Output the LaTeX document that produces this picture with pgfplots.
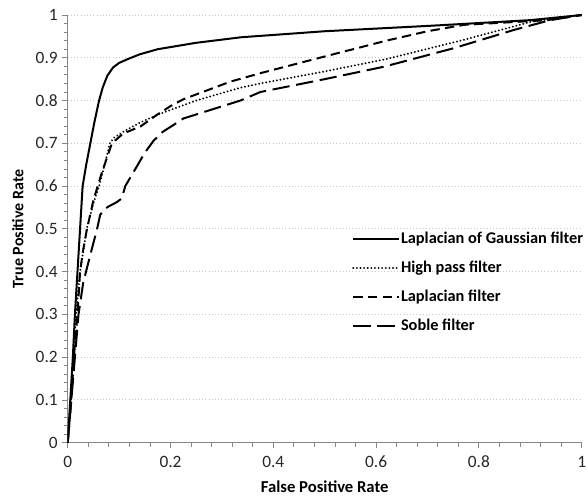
\documentclass[border=0pt]{standalone}
\usepackage{fontspec}
\setmainfont{Carlito}
\usepackage{pgfplots}
\pgfplotsset{compat=1.18}

\definecolor{axisgray}{RGB}{134,134,134}
\definecolor{gridgray}{RGB}{200,200,200}

\begin{document}
\begin{tikzpicture}
\begin{axis}[
  name=ax,
  scale only axis,
  width=385.5pt, height=320.8pt,
  xmin=0, xmax=1, ymin=0, ymax=1,
  axis x line=bottom, axis y line=left,
  axis line style={-, axisgray, line width=0.8pt},
  xtick={0,0.2,...,1}, ytick={0,0.1,...,1},
  minor x tick num=4, minor y tick num=4,
  tick align=outside,
  major tick length=4pt, minor tick length=3pt,
  tick style={axisgray, line width=0.6pt},
  ymajorgrids,
  major grid style={gridgray, dotted, line width=0.7pt},
  /pgf/number format/assume math mode=true,
  ticklabel style={font=\fontsize{13}{15}\selectfont, text=black!85},
  xticklabel style={yshift=-2.5pt},
  xlabel={False Positive Rate},
  ylabel={True Positive Rate},
  xlabel style={font=\bfseries\fontsize{12.5}{14}\selectfont, inner sep=0pt, at={(axis description cs:0.5,-0.104)}, anchor=center},
  ylabel style={font=\bfseries\fontsize{12}{14}\selectfont, at={(axis description cs:-0.097,0.5)}, anchor=center},
  legend cell align=left,
  legend style={draw=none, fill=none, at={(axis description cs:0.553,0.498)}, anchor=north west,
    font=\bfseries\fontsize{12.25}{14}\selectfont, row sep=7.75pt, inner sep=0pt,
    nodes={inner sep=1pt, text height=9pt, text depth=3pt}},
  legend image code/.code={\draw[#1] (0pt,0pt) -- (34pt,0pt);},
  every axis plot/.append style={black, no marks, line width=1.5pt, line join=round},
]
\addplot[solid] coordinates {
(0,0) (0.005,0.1) (0.010,0.2) (0.014,0.3) (0.019,0.4) (0.024,0.5) (0.029,0.6)
(0.036,0.65) (0.044,0.70) (0.052,0.75) (0.061,0.80) (0.068,0.83) (0.077,0.858)
(0.088,0.877) (0.100,0.888) (0.117,0.897) (0.140,0.908) (0.175,0.920) (0.250,0.935)
(0.338,0.948) (0.500,0.962) (0.709,0.975) (0.900,0.988) (1,1)};
\addlegendentry{Laplacian of Gaussian filter}

\addplot[line cap=round, dash pattern=on 0.01pt off 2.7pt, line width=1.6pt] coordinates {
(0,0) (0.006,0.1) (0.011,0.2) (0.016,0.3) (0.024,0.4) (0.037,0.5) (0.050,0.56)
(0.061,0.6) (0.072,0.65) (0.082,0.70) (0.090,0.713) (0.108,0.727) (0.140,0.748)
(0.173,0.766) (0.250,0.800) (0.336,0.830) (0.375,0.840) (0.500,0.868) (0.620,0.897)
(0.771,0.942) (0.901,0.984) (1,1)};
\addlegendentry{High pass filter}

\addplot[dash pattern=on 7pt off 4pt] coordinates {
(0,0) (0.007,0.1) (0.012,0.2) (0.019,0.3) (0.024,0.4) (0.030,0.45) (0.037,0.497)
(0.050,0.567) (0.066,0.63) (0.086,0.70) (0.108,0.723) (0.141,0.739) (0.173,0.766)
(0.200,0.787) (0.225,0.803) (0.316,0.844) (0.375,0.864) (0.500,0.903) (0.620,0.940)
(0.700,0.962) (0.771,0.977) (0.933,0.988) (1,1)};
\addlegendentry{Laplacian filter}

\addplot[dash pattern=on 13pt off 5pt] coordinates {
(0,0) (0.007,0.1) (0.014,0.2) (0.021,0.3) (0.030,0.373) (0.043,0.435) (0.057,0.499)
(0.063,0.532) (0.070,0.545) (0.079,0.552) (0.095,0.562) (0.105,0.571) (0.112,0.600)
(0.134,0.645) (0.150,0.678) (0.167,0.706) (0.185,0.727) (0.206,0.743) (0.225,0.758)
(0.336,0.800) (0.375,0.820) (0.500,0.850) (0.615,0.879) (0.750,0.922) (0.868,0.965)
(0.939,0.988) (1,1)};
\addlegendentry{Soble filter}
\end{axis}
\pgfresetboundingbox
\path ([xshift=-50.8pt,yshift=-40pt]ax.south west) rectangle ([xshift=4pt,yshift=11.25pt]ax.north east);
\end{tikzpicture}
\end{document}
